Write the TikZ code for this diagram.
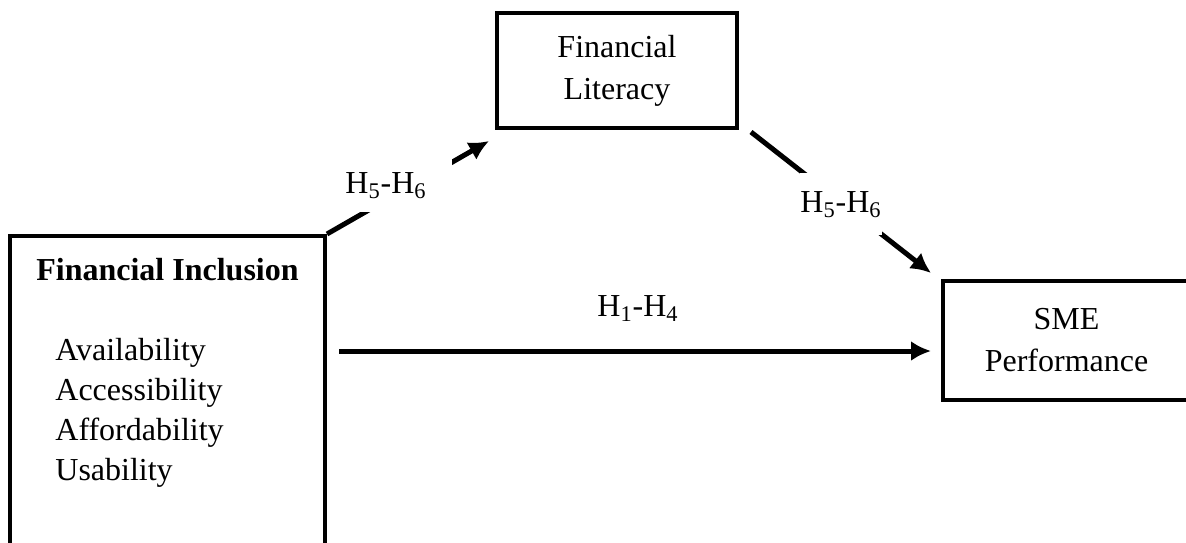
\documentclass[tikz,border=0pt]{standalone}
\usepackage{fontspec}
\setmainfont{Liberation Serif}
\usetikzlibrary{arrows.meta,calc}

\begin{document}
\begin{tikzpicture}[x=0.5pt,y=-0.5pt,
  every node/.style={font=\fontsize{16pt}{21pt}\selectfont},
  box/.style={draw,line width=2pt,align=center,inner sep=0pt},
  arr/.style={line width=2.5pt,-{Latex[length=10pt,width=10pt]}},
  hyp/.style={fill=white,inner xsep=0pt,inner ysep=0pt}]
\useasboundingbox (0,0) rectangle (1186,542);
% boxes
\node[box,minimum width=157.5pt,minimum height=162pt] (fi) at (167.5,398) {};
\node[box,minimum width=120pt,minimum height=57.5pt] (lit) at (617,70.5) {Financial\\Literacy};
\node[box,minimum width=123.5pt,minimum height=59.5pt] (sme) at (1066.5,340.5) {SME\\Performance};
\node[anchor=base,inner sep=0pt] (fititle) at (167.5,280) {\textbf{Financial Inclusion}};
\foreach \w [count=\i] in {Availability,Accessibility,Affordability,Usability}
  \node[anchor=base west,inner sep=0pt] (fi\i) at (55,320+40*\i) {\w};
% paths
\draw[arr] (fi.north east) -- ([xshift=-3pt,yshift=-5.5pt]lit.south west);
\draw[arr] ([xshift=6pt,yshift=-1pt]lit.south east) -- ([xshift=-5pt,yshift=3pt]sme.north west);
\coordinate (h14) at ([xshift=-5pt,yshift=-5.25pt]sme.west);
\draw[arr] ($(fi.east |- h14)+(6pt,0)$) -- (h14);
% hypotheses
\node[hyp,anchor=base west,text width=53.5pt,align=left,minimum height=27pt] (h56a) at (345,193) {H\textsubscript{5}-H\textsubscript{6}};
\node[hyp,anchor=base west,minimum height=31pt] (h56b) at (800,212) {H\textsubscript{5}-H\textsubscript{6}};
\node[anchor=base west,inner sep=0pt] (h14lbl) at (597,316) {H\textsubscript{1}-H\textsubscript{4}};
\end{tikzpicture}
\end{document}
